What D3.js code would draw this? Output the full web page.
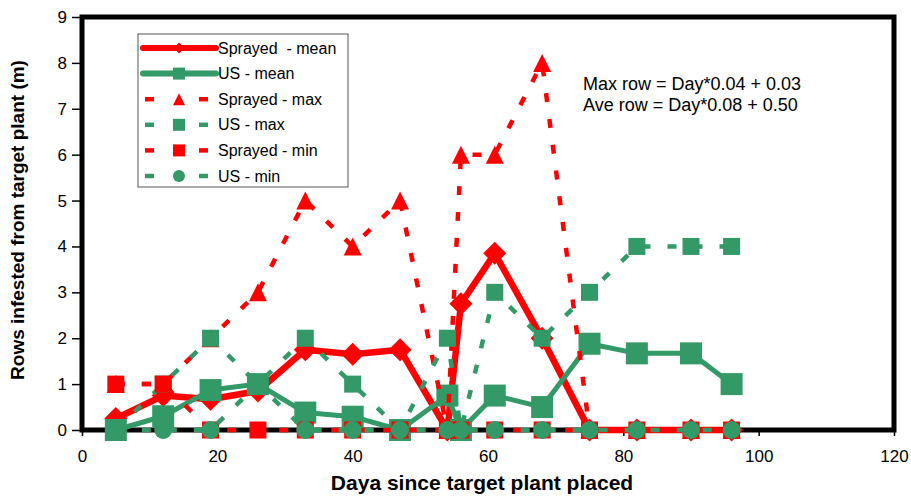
<!DOCTYPE html>
<html lang="en">
<head>
    <meta charset="UTF-8">
    <title>Rows infested</title>
    <script src="https://d3js.org/d3.v7.min.js"></script>
    <style>
        body { margin: 0; background: #fff; }
        text { font-family: "Liberation Sans", Arial, sans-serif; }
    </style>
</head>
<body>
<script>
// data
var days         = [5, 12, 19, 26, 33, 40, 47, 54, 56, 61, 68, 75, 82, 90, 96];
var sprayedMean  = [0.25, 0.75, 0.67, 0.85, 1.75, 1.65, 1.75, 0, 2.75, 3.85, 2, 0, 0, 0, 0];
var usMean       = [0, 0.3, 0.87, 1.0, 0.38, 0.29, 0, 0.75, 0, 0.75, 0.5, 1.88, 1.67, 1.67, 1.0];
var sprayedMax   = [1, 1, 2, 3, 5, 4, 5, 0, 6, 6, 8, 0, 0, 0, 0];
var usMax        = [0, 1, 2, 1, 2, 1, 0, 2, 0, 3, 2, 3, 4, 4, 4];
var sprayedMin   = [1, 1, 0, 0, 0, 0, 0, 0, 0, 0, 0, 0, 0, 0, 0];
var usMin        = [0, 0, 0, 1, 0, 0, 0, 0, 0, 0, 0, 0, 0, 0, 0];

var xTicks = [0, 20, 40, 60, 80, 100, 120];
var yTicks = [0, 1, 2, 3, 4, 5, 6, 7, 8, 9];

var RED = "#ff0000", GREEN = "#339966";

var series = [
    {name: "Sprayed  - mean", values: sprayedMean, color: RED,   dashed: false, shape: "diamond",  size: 23, width: 6.5},
    {name: "US - mean",       values: usMean,      color: GREEN, dashed: false, shape: "square",   size: 22, width: 5},
    {name: "Sprayed - max",   values: sprayedMax,  color: RED,   dashed: true,  shape: "triangle", size: 18, width: 4.5},
    {name: "US - max",        values: usMax,       color: GREEN, dashed: true,  shape: "square",   size: 17, width: 4.5},
    {name: "Sprayed - min",   values: sprayedMin,  color: RED,   dashed: true,  shape: "square",   size: 17, width: 4.5},
    {name: "US - min",        values: usMin,       color: GREEN, dashed: true,  shape: "circle",   size: 18, width: 4.5}
];

var margin = {top: 17, right: 17, bottom: 68, left: 82},
    width = 911 - margin.left - margin.right,
    height = 498 - margin.top - margin.bottom;

var x = d3.scaleLinear().domain([0, 120]).range([0, width]);
var y = d3.scaleLinear().domain([0, 9]).range([height, 0]);

var svg = d3.select("body").append("svg")
    .attr("width", 911)
    .attr("height", 498);

var g = svg.append("g")
    .attr("transform", "translate(" + margin.left + "," + margin.top + ")");

// marker path centred on 0,0; s = full width
function marker(shape, s) {
    var h = s / 2;
    if (shape === "square") return "M" + (-h) + "," + (-h) + "h" + s + "v" + s + "h" + (-s) + "Z";
    if (shape === "diamond") return "M0," + (-h) + "L" + h + ",0L0," + h + "L" + (-h) + ",0Z";
    if (shape === "triangle") return "M0," + (-h) + "L" + h + "," + h + "L" + (-h) + "," + h + "Z";
    return d3.symbol().type(d3.symbolCircle).size(Math.PI * h * h)();
}

// axes
var yAxis = g.append("g")
    .call(d3.axisLeft(y).tickValues(yTicks).tickSize(10).tickPadding(5).tickFormat(d3.format("d")));
var xAxis = g.append("g")
    .attr("transform", "translate(0," + height + ")")
    .call(d3.axisBottom(x).tickValues(xTicks).tickSize(6).tickPadding(14).tickFormat(d3.format("d")));
[xAxis, yAxis].forEach(function(a) {
    a.select(".domain").remove();
    a.selectAll("line").attr("stroke", "#000").attr("stroke-width", 1.5);
    a.selectAll("text").attr("font-size", 17).attr("fill", "#000")
        .attr("font-family", "Liberation Sans, Arial, sans-serif");
});

// plot frame
g.append("rect")
    .attr("width", width)
    .attr("height", height)
    .attr("fill", "none")
    .attr("stroke", "#000")
    .attr("stroke-width", 5);

// series lines and markers
var line = d3.line()
    .x(function(d) { return x(d[0]); })
    .y(function(d) { return y(d[1]); });

series.forEach(function(s) {
    var pts = days.map(function(d, i) { return [d, s.values[i]]; });
    var sg = g.append("g");
    sg.append("path")
        .datum(pts)
        .attr("d", line)
        .attr("fill", "none")
        .attr("stroke", s.color)
        .attr("stroke-width", s.width)
        .attr("stroke-linejoin", "round")
        .attr("stroke-dasharray", s.dashed ? "9,17" : null);
    sg.selectAll(".mk")
        .data(pts)
        .enter().append("path")
        .attr("class", "mk")
        .attr("transform", function(d) { return "translate(" + x(d[0]) + "," + y(d[1]) + ")"; })
        .attr("d", marker(s.shape, s.size))
        .attr("fill", s.color);
});

// legend
var legend = svg.append("g").attr("transform", "translate(138,34)");
legend.append("rect")
    .attr("width", 210)
    .attr("height", 153)
    .attr("fill", "#fff")
    .attr("stroke", "#555")
    .attr("stroke-width", 1);

series.forEach(function(s, i) {
    var ly = 14 + i * 25.6;
    var row = legend.append("g").attr("transform", "translate(0," + ly + ")");
    if (s.dashed) {
        [[7, 16], [61, 70]].forEach(function(seg) {
            row.append("line")
                .attr("x1", seg[0]).attr("x2", seg[1])
                .attr("stroke", s.color).attr("stroke-width", 4.5);
        });
    } else {
        row.append("line")
            .attr("x1", 5).attr("x2", 78)
            .attr("stroke", s.color).attr("stroke-width", 6)
            .attr("stroke-linecap", "round");
    }
    row.append("path")
        .attr("transform", "translate(41,0)")
        .attr("d", marker(s.shape, s.shape === "diamond" ? 11 : 12))
        .attr("fill", s.color);
    row.append("text")
        .attr("x", 80)
        .attr("dy", "0.35em")
        .attr("font-size", 16)
        .style("white-space", "pre")
        .text(s.name);
});

// equations
svg.append("text").attr("x", 583).attr("y", 90).attr("font-size", 18)
    .text("Max row = Day*0.04 + 0.03");
svg.append("text").attr("x", 583).attr("y", 111).attr("font-size", 18)
    .text("Ave row = Day*0.08 + 0.50");

// axis titles
svg.append("text")
    .attr("x", margin.left + width / 2 - 6)
    .attr("y", 490)
    .attr("text-anchor", "middle")
    .attr("font-size", 21)
    .attr("font-weight", "bold")
    .text("Daya since target plant placed");

svg.append("text")
    .attr("transform", "translate(24,220) rotate(-90)")
    .attr("text-anchor", "middle")
    .attr("font-size", 19)
    .attr("font-weight", "bold")
    .text("Rows infested from target plant (m)");
</script>
</body>
</html>
